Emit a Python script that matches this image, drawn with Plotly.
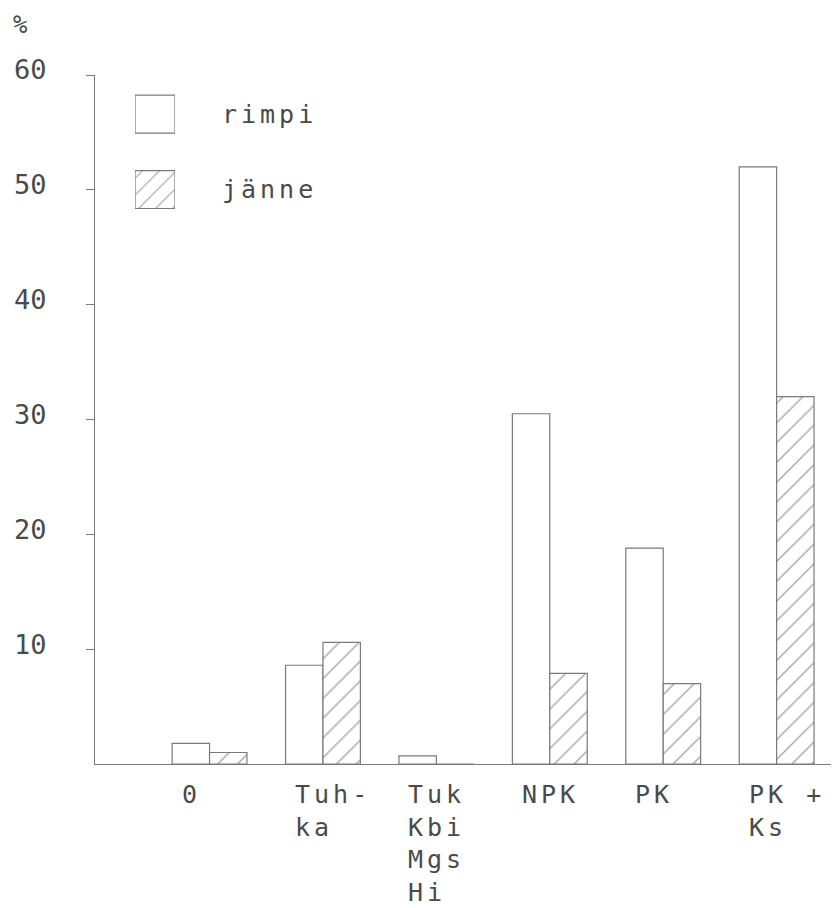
import plotly.graph_objects as go

categories = ["0", "Tuhka", "Tuk Kbi Mgs Hi", "NPK", "PK", "PK + Ks"]
category_labels = ["0", "Tuh-<br>ka", "Tuk<br>Kbi<br>Mgs<br>Hi", "NPK", "PK", "PK +<br>Ks"]
rimpi = [1.8, 8.6, 0.7, 30.5, 18.8, 52.0]
janne = [1.0, 10.6, 0.0, 7.9, 7.0, 32.0]
y_tick_values = [10, 20, 30, 40, 50, 60]
y_tick_labels = ["10", "20", "30", "40", "50", "60"]
series_names = ["rimpi", "jänne"]

FONT = "DejaVu Sans Mono"
TXT = "#4a4a4a"
LINE = "#7a7a7a"
HATCH = dict(shape="/", size=14, solidity=0.1, fgcolor="#4d4d4d", bgcolor="white")


def spaced(t, px=4):
    lines = t.split("<br>")
    return "<br>".join(f'<span style="letter-spacing:{px}px">{ln}</span>' for ln in lines)


fig = go.Figure()
fig.add_trace(go.Bar(
    x=categories, y=rimpi, name=series_names[0],
    marker=dict(color="white", line=dict(color=LINE, width=1.2)),
    showlegend=False,
))
fig.add_trace(go.Bar(
    x=categories, y=janne, name=series_names[1],
    marker=dict(color="white", line=dict(color=LINE, width=1.2), pattern=HATCH),
    showlegend=False,
))

# legend swatches on a small inset axis
legend_pattern = dict(HATCH)
legend_pattern["shape"] = ["/", ""]
legend_pattern["size"] = 12
fig.add_trace(go.Bar(
    y=series_names[::-1], x=[1, 1], orientation="h", width=0.503,
    xaxis="x2", yaxis="y2", showlegend=False, hoverinfo="skip",
    marker=dict(color="white", line=dict(color=LINE, width=1.2), pattern=legend_pattern),
))

fig.update_layout(
    width=831, height=900,
    margin=dict(l=87, r=0, t=67, b=144),
    paper_bgcolor="white", plot_bgcolor="white",
    barmode="group", bargap=0.34, bargroupgap=0,
    font=dict(family=FONT, color=TXT, size=24),
    xaxis=dict(
        type="category", range=[-1.01, 5.55], showticklabels=False,
        showline=True, linecolor=LINE, linewidth=1.2, ticks="", showgrid=False, zeroline=False,
    ),
    yaxis=dict(
        range=[0, 60], tickvals=y_tick_values, ticktext=y_tick_labels,
        ticks="outside", ticklen=8, tickcolor=LINE, tickwidth=1.2,
        showline=True, linecolor=LINE, linewidth=1.2, showgrid=False, zeroline=False,
        tickfont=dict(family=FONT, size=27, color=TXT),
        ticklabelstandoff=34, ticklabelshift=-5,
    ),
    xaxis2=dict(domain=[0.0538, 0.1075], range=[0, 1], visible=False, anchor="y2"),
    yaxis2=dict(
        domain=[0.779, 0.998], anchor="x2", type="category", range=[-0.5, 1.5],
        tickvals=series_names[::-1], ticktext=[spaced(s) for s in series_names[::-1]],
        side="right", showline=False, ticks="", showgrid=False, zeroline=False,
        tickfont=dict(family=FONT, size=25, color=TXT), ticklabelstandoff=46,
    ),
)

fig.add_annotation(text="%", xref="paper", yref="paper", x=-0.1008, y=1.072,
                   xanchor="center", yanchor="middle", showarrow=False,
                   font=dict(family=FONT, size=24, color=TXT))

for cat, lab in zip(categories, category_labels):
    fig.add_annotation(text=spaced(lab), x=cat, xref="x", yref="paper", y=-0.02,
                       xanchor="left", yanchor="top", align="left", xshift=-30,
                       showarrow=False, font=dict(family=FONT, size=25, color=TXT))

fig.write_html("out.html")
